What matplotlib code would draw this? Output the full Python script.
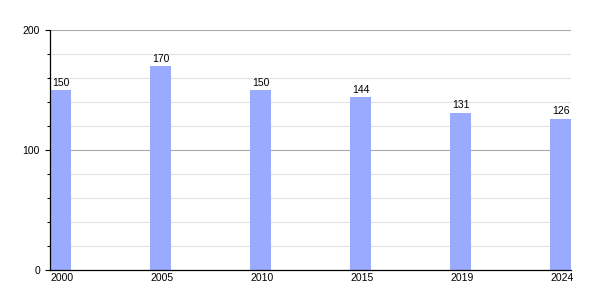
import matplotlib
matplotlib.use("Agg")
import matplotlib.pyplot as plt
from matplotlib.ticker import MultipleLocator

years = ["2000", "2005", "2010", "2015", "2019", "2024"]
values = [150, 170, 150, 144, 131, 126]

plt.rcParams["font.family"] = ["Liberation Sans", "DejaVu Sans"]

fig = plt.figure(figsize=(6, 3), dpi=100)
ax = fig.add_axes([50 / 600, 0.1, 521 / 600, 0.8])

pos = list(range(len(years)))
bars = ax.bar(pos, values, width=0.21, align="edge", color="#99aaff", zorder=3)

# value labels above each bar
for b, v in zip(bars, values):
    ax.text(b.get_x() + b.get_width() / 2, v + 2, str(v),
            ha="center", va="bottom", fontsize=7.5, zorder=4)

ax.set_xlim(0, 5.21)
ax.set_ylim(0, 200)
ax.set_xticks(pos)
ax.set_xticklabels(years, ha="left", fontsize=7.5)
ax.tick_params(axis="x", length=0, pad=2.5)

ax.yaxis.set_major_locator(MultipleLocator(100))
ax.yaxis.set_minor_locator(MultipleLocator(20))
ax.tick_params(axis="y", which="major", length=3.6, width=0.8, labelsize=7.5, pad=3.6)
ax.tick_params(axis="y", which="minor", length=2, width=0.8)

ax.grid(axis="y", which="minor", color="#e3e3e3", linewidth=0.8, zorder=0)
ax.grid(axis="y", which="major", color="#a8a8a8", linewidth=0.8, zorder=1)

for s in ("top", "right"):
    ax.spines[s].set_visible(False)
for s in ("left", "bottom"):
    ax.spines[s].set_linewidth(0.9)
    ax.spines[s].set_zorder(5)

fig.savefig("out.png", dpi=100)
plt.close(fig)
